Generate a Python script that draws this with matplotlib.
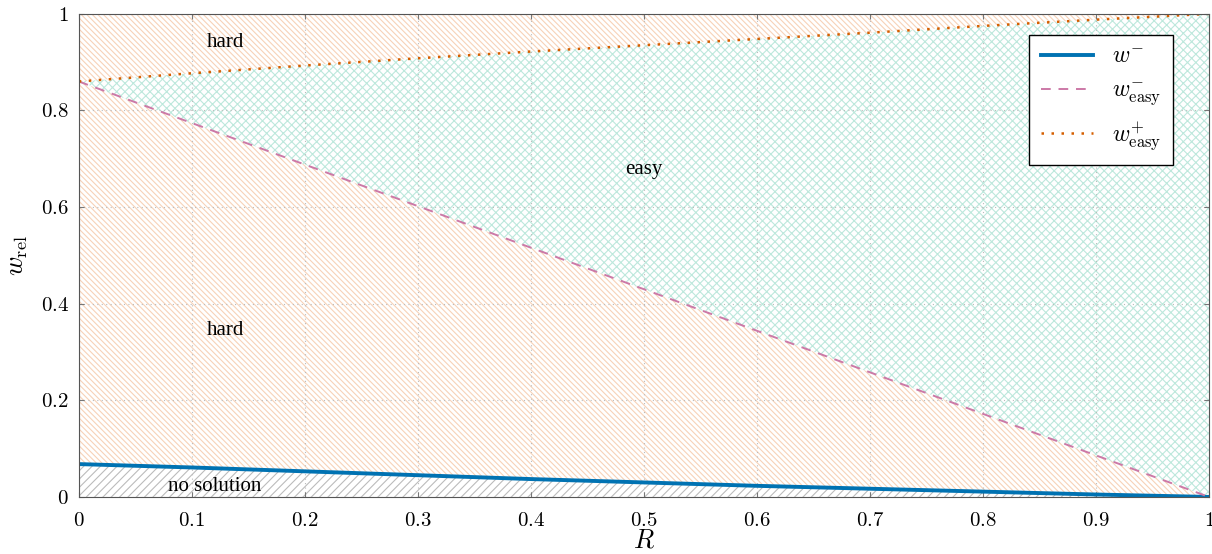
import matplotlib.pyplot as plt
import matplotlib
import numpy as np

# data
R = [0.0, 0.1, 0.2, 0.3, 0.4, 0.5, 0.6, 0.7, 0.8, 0.9, 1.0]
w_minus = [0.068, 0.061, 0.053, 0.045, 0.037, 0.030, 0.023, 0.017, 0.011, 0.005, 0.0]
w_easy_minus = [0.86, 0.774, 0.688, 0.602, 0.516, 0.43, 0.344, 0.258, 0.172, 0.086, 0.0]
w_easy_plus = [0.86, 0.877, 0.893, 0.908, 0.922, 0.935, 0.948, 0.961, 0.975, 0.988, 1.0]
x_ticks = [0.0, 0.1, 0.2, 0.3, 0.4, 0.5, 0.6, 0.7, 0.8, 0.9, 1.0]
y_ticks = [0.0, 0.2, 0.4, 0.6, 0.8, 1.0]


def fmt(v):
    # 0 and 1 without decimals, like the reference
    if v in (0.0, 1.0):
        return '$%d$' % v
    return '$%.1f$' % v


def main():
    matplotlib.rcParams['font.family'] = ['Liberation Serif', 'DejaVu Serif']
    matplotlib.rcParams['mathtext.fontset'] = 'cm'
    matplotlib.rcParams['hatch.linewidth'] = 0.8

    blue = '#0072B2'
    pink = '#CC79A7'
    orange = '#D55E00'

    fig = plt.figure(figsize=(12.12, 5.54), dpi=100)
    ax = fig.add_axes([0.065, 0.103, 0.9325, 0.872])

    x = np.array(R)
    wm = np.array(w_minus)
    em = np.array(w_easy_minus)
    ep = np.array(w_easy_plus)

    # regions
    ax.fill_between(x, 0, wm, facecolor='none', edgecolor='#bcbcbc', hatch='////', linewidth=0)
    ax.fill_between(x, wm, em, facecolor='none', edgecolor='#f7d2b8', hatch='\\' * 6, linewidth=0)
    ax.fill_between(x, em, ep, facecolor='none', edgecolor='#bde8dc', hatch='xxxx', linewidth=0)
    ax.fill_between(x, ep, 1, facecolor='none', edgecolor='#f7d2b8', hatch='\\' * 6, linewidth=0)

    # curves
    ax.plot(x, wm, color=blue, lw=2.8, label=r'$w^{-}$')
    ax.plot(x, em, color=pink, lw=1.4, ls=(0, (5, 4)), label=r'$w_{\mathrm{easy}}^{-}$')
    ax.plot(x, ep, color=orange, lw=1.8, ls=(0, (1, 3)), label=r'$w_{\mathrm{easy}}^{+}$')

    # region labels
    ax.text(0.13, 0.94, 'hard', ha='center', va='center', fontsize=15)
    ax.text(0.13, 0.345, 'hard', ha='center', va='center', fontsize=15)
    ax.text(0.5, 0.677, 'easy', ha='center', va='center', fontsize=15)
    ax.text(0.12, 0.022, 'no solution', ha='center', va='center', fontsize=15)

    ax.set_xlim(0, 1)
    ax.set_ylim(0, 1)
    ax.set_xticks(x_ticks)
    ax.set_yticks(y_ticks)
    ax.set_xticklabels([fmt(v) for v in x_ticks])
    ax.set_yticklabels([fmt(v) for v in y_ticks])
    ax.tick_params(direction='in', labelsize=15, top=True, right=True, color='#777777')
    ax.tick_params(axis='x', pad=11)
    ax.tick_params(axis='y', pad=7)
    ax.grid(True, color='#bbbbbb', ls=(0, (1, 3)), lw=0.8)
    for s in ax.spines.values():
        s.set_color('#555555')
        s.set_linestyle((0, (3, 1)))

    ax.set_xlabel(r'$R$', fontsize=19, labelpad=-1)
    ax.set_ylabel(r'$w_{\mathrm{rel}}$', fontsize=19, labelpad=8)

    leg = ax.legend(loc='upper right', bbox_to_anchor=(0.9785, 0.98), fontsize=17,
                    fancybox=False, edgecolor='black', framealpha=1,
                    handlelength=2.2, borderpad=0.5, labelspacing=0.5, handletextpad=0.8)
    leg.get_frame().set_linewidth(1.0)

    fig.savefig('out.png', dpi=100)


if __name__ == '__main__':
    main()
